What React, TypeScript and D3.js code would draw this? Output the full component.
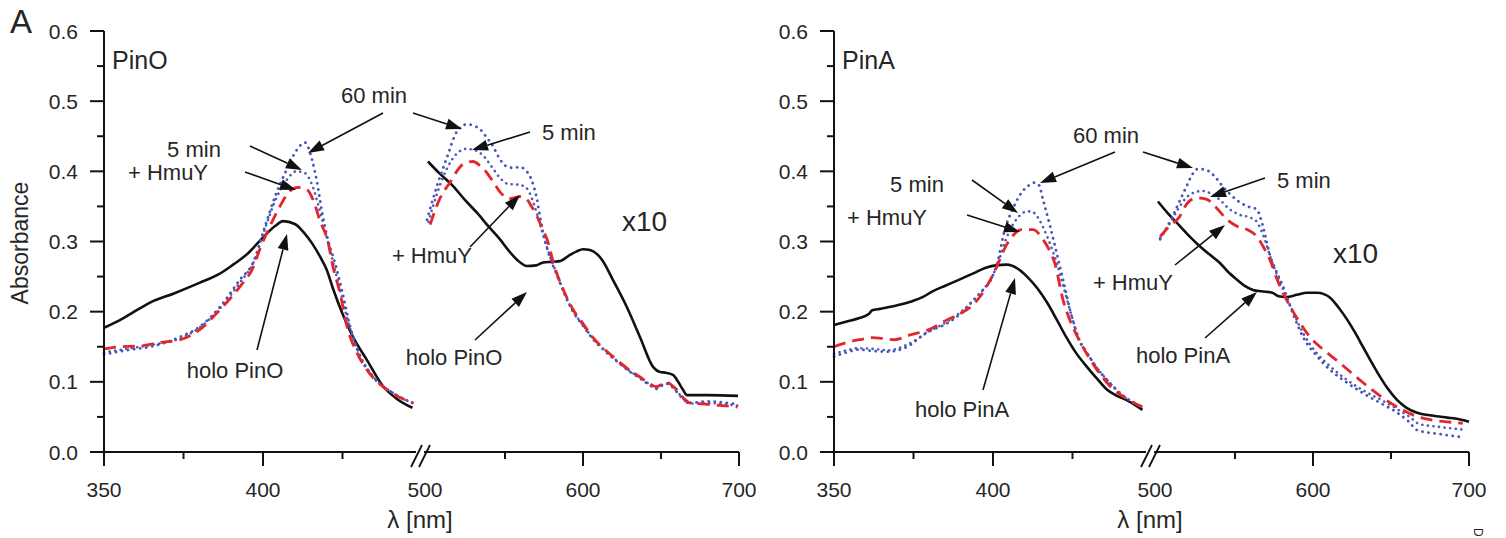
import React from "react";
import * as d3 from "d3";

// ---------- data (λ [nm], absorbance) ----------
const Y_TICKS = [0, 0.1, 0.2, 0.3, 0.4, 0.5, 0.6];
const Y_MINOR = [0.05, 0.15, 0.25, 0.35, 0.45, 0.55];
const X_TICKS_SORET = [350, 400];
const X_MINOR_SORET = [375, 425];
const X_TICKS_VIS = [500, 600, 700];
const X_MINOR_VIS = [550, 650];

// PinO, Soret region
const pinO_holo_soret = [[350,0.177],[355,0.188],[361,0.204],[364.5,0.213],[372,0.226],[380,0.241],[386,0.253],[390.6,0.267],[395,0.282],[398.4,0.298],[403.8,0.322],[406.3,0.329],[410,0.325],[413,0.312],[415.5,0.297],[418,0.278],[420,0.26],[422,0.233],[425,0.197],[428.3,0.164],[432.7,0.131],[437.7,0.094],[442,0.076],[447,0.063]];
const pinO_hmuy_soret = [[350,0.147],[355,0.15],[361,0.151],[367.6,0.156],[374,0.16],[380,0.174],[386.5,0.203],[392.8,0.236],[397,0.264],[399,0.289],[401.3,0.313],[405.3,0.35],[408.5,0.372],[411,0.377],[413.8,0.374],[415.7,0.36],[417.9,0.33],[420.4,0.3],[422,0.264],[424.2,0.227],[426.4,0.179],[429.6,0.141],[432.7,0.117],[437.7,0.093],[442,0.08],[447.2,0.07]];
const pinO_5min_soret = [[350,0.142],[357,0.147],[364,0.152],[374,0.162],[380,0.177],[386.5,0.205],[392.8,0.242],[397,0.27],[400.6,0.318],[404,0.36],[407.5,0.388],[410.5,0.4],[413,0.398],[415.5,0.38],[417.5,0.35],[419.5,0.315],[421.5,0.28],[424,0.235],[427,0.182],[430.5,0.138],[434.6,0.108],[441,0.084],[447,0.07]];
const pinO_60min_soret = [[350,0.139],[357,0.145],[364.5,0.15],[373.9,0.164],[380.2,0.179],[386.5,0.207],[392.8,0.246],[396.9,0.27],[400.6,0.321],[403.8,0.364],[407.5,0.403],[410.7,0.431],[413.2,0.441],[415.4,0.417],[417,0.384],[418.6,0.341],[420.4,0.303],[422.6,0.27],[425,0.227],[427.4,0.179],[430.5,0.136],[434.6,0.107],[440.9,0.084],[447,0.07]];

// PinO, visible region (x10)
const pinO_holo_vis = [[500.6,0.414],[508,0.397],[516.7,0.379],[524,0.36],[532,0.341],[540,0.32],[546.8,0.303],[552,0.288],[557.7,0.274],[564,0.265],[570,0.266],[574.4,0.27],[580,0.271],[585.3,0.272],[591,0.28],[596,0.286],[600,0.289],[604.5,0.288],[609,0.282],[612.8,0.272],[619,0.246],[628,0.207],[636.5,0.164],[645,0.121],[649.4,0.114],[653,0.113],[657.7,0.11],[661,0.1],[664,0.089],[666.7,0.081],[680,0.081],[699.4,0.08]];
const pinO_hmuy_vis = [[502,0.324],[508,0.36],[514.7,0.384],[523,0.41],[529.5,0.414],[534,0.408],[538,0.399],[543,0.383],[547,0.37],[553,0.361],[559.6,0.364],[564,0.36],[567,0.35],[570.5,0.336],[574,0.318],[577,0.303],[581,0.27],[583,0.256],[588,0.228],[593.6,0.203],[600,0.183],[606,0.164],[614,0.146],[621.8,0.131],[629,0.118],[636.5,0.107],[643,0.097],[647,0.093],[651,0.097],[654,0.099],[657,0.095],[660,0.089],[664,0.078],[668.6,0.07],[680,0.068],[699,0.064]];
const pinO_5min_vis = [[501,0.328],[507,0.372],[513,0.405],[519,0.425],[525,0.432],[531,0.43],[537,0.42],[542,0.405],[547,0.39],[552,0.382],[558,0.381],[563,0.378],[566,0.368],[569,0.35],[572,0.328],[575,0.305],[579,0.278],[583,0.255],[588,0.227],[593.6,0.201],[600,0.181],[606,0.163],[614,0.145],[621.8,0.13],[629,0.117],[636.5,0.106],[643,0.096],[647,0.091],[651,0.096],[654,0.098],[657,0.094],[660,0.087],[664,0.077],[668,0.069],[680,0.07],[699,0.066]];
const pinO_60min_vis = [[500,0.331],[506.4,0.379],[513,0.421],[519,0.456],[525.6,0.467],[530,0.465],[534,0.46],[538,0.449],[542.3,0.436],[546,0.42],[551,0.407],[555,0.405],[559.6,0.406],[563,0.402],[566,0.393],[568.5,0.378],[570.5,0.36],[572.5,0.335],[574.4,0.313],[577,0.29],[580,0.27],[583,0.254],[588,0.226],[593.6,0.2],[600,0.18],[606,0.162],[614,0.144],[621.8,0.129],[629,0.116],[636.5,0.105],[643,0.095],[647,0.09],[651,0.095],[654,0.097],[657,0.093],[660,0.086],[664,0.076],[668,0.07],[680,0.072],[699,0.068]];

// PinA, Soret region
const pinA_holo_soret = [[350,0.181],[354,0.186],[358,0.191],[361,0.197],[362,0.202],[364.5,0.204],[369,0.208],[374,0.214],[378,0.221],[381,0.229],[385,0.237],[389.6,0.246],[394,0.255],[398,0.263],[401,0.266],[404.4,0.267],[407.5,0.262],[410.7,0.25],[414,0.233],[417,0.213],[420,0.189],[423,0.164],[426,0.142],[429.6,0.121],[433,0.103],[435.8,0.089],[439,0.08],[442,0.074],[447,0.06]];
const pinA_hmuy_soret = [[350,0.15],[354,0.156],[358,0.16],[362,0.163],[365,0.162],[369,0.16],[374,0.167],[379.6,0.174],[385.8,0.189],[390,0.198],[393,0.207],[396,0.222],[398,0.236],[401,0.262],[404,0.293],[406,0.307],[409,0.317],[412.6,0.317],[415.7,0.303],[418,0.285],[419.5,0.268],[422,0.217],[424,0.19],[426.6,0.164],[430.7,0.131],[437,0.093],[442,0.076],[447,0.064]];
const pinA_5min_soret = [[350,0.14],[354,0.145],[358,0.148],[362,0.147],[367,0.145],[373,0.153],[380,0.172],[386,0.187],[390,0.2],[394,0.217],[397,0.232],[399.5,0.248],[402,0.275],[404,0.302],[406,0.322],[408,0.335],[410,0.342],[412,0.343],[414,0.335],[416,0.318],[418,0.296],[420,0.27],[422,0.238],[425,0.19],[427,0.162],[429.6,0.141],[433,0.118],[436,0.102],[441,0.08],[447,0.064]];
const pinA_60min_soret = [[350,0.136],[354,0.142],[358,0.146],[362,0.144],[366.7,0.143],[373,0.15],[379,0.17],[385.8,0.184],[390,0.198],[394,0.217],[397,0.232],[399.4,0.246],[401.6,0.274],[403.5,0.313],[406.6,0.35],[409,0.37],[411,0.379],[413,0.384],[414.5,0.38],[415.7,0.36],[418,0.321],[420,0.284],[422,0.246],[425,0.189],[427,0.16],[429.6,0.141],[433,0.118],[435.8,0.103],[441,0.08],[447,0.064]];

// PinA, visible region (x10)
const pinA_holo_vis = [[500.6,0.357],[507,0.34],[514.7,0.322],[521,0.307],[527.6,0.293],[534,0.281],[540,0.27],[545,0.258],[551,0.246],[556,0.237],[561.5,0.231],[567,0.229],[574,0.227],[578,0.222],[583,0.221],[589.7,0.224],[596,0.227],[602.6,0.227],[607,0.225],[611,0.22],[616,0.207],[621.8,0.189],[627,0.17],[632,0.15],[637,0.13],[643,0.107],[648,0.09],[654,0.074],[660,0.063],[666.7,0.056],[676,0.052],[686,0.049],[693,0.047],[700,0.043]];
const pinA_hmuy_vis = [[502,0.307],[508,0.322],[514.7,0.336],[518,0.35],[522.4,0.36],[527,0.362],[532,0.36],[538,0.348],[545,0.331],[551,0.322],[557.7,0.317],[564,0.307],[568,0.293],[572.4,0.274],[577,0.246],[583,0.217],[590,0.19],[598,0.164],[606,0.147],[615,0.131],[624,0.114],[632,0.099],[643,0.08],[654,0.064],[665,0.052],[675,0.046],[686,0.043],[696,0.041]];
const pinA_5min_vis = [[502,0.305],[508,0.325],[514,0.348],[519,0.363],[524,0.37],[529,0.372],[534,0.369],[540,0.36],[546,0.347],[553,0.338],[560,0.334],[564,0.328],[567,0.315],[570,0.297],[573,0.276],[577,0.252],[582,0.226],[588,0.196],[594,0.168],[602,0.142],[611,0.122],[621,0.104],[632,0.088],[643,0.075],[654,0.061],[662,0.05],[668,0.04],[680,0.036],[696,0.032]];
const pinA_60min_vis = [[502,0.303],[510,0.336],[515,0.36],[519,0.379],[522,0.393],[525.6,0.403],[530,0.403],[534,0.399],[538,0.39],[542,0.379],[547,0.367],[553,0.356],[558,0.35],[564,0.346],[566,0.336],[568,0.321],[570,0.303],[572,0.284],[576,0.26],[580.8,0.236],[587,0.198],[593.6,0.164],[602,0.138],[611,0.117],[621,0.1],[632,0.084],[643,0.07],[654,0.056],[661,0.044],[667,0.031],[680,0.026],[696,0.021]];

// ---------- styles ----------
const FONT = "'Liberation Sans', Arial, Helvetica, sans-serif";
const TXT = "#262626";
const STYLES: Record<string, any> = {
  holo: { stroke: "#111", width: 2.6, dash: undefined, cap: "butt" },
  hmuy: { stroke: "#e3262c", width: 2.8, dash: "12 7", cap: "butt" },
  min5: { stroke: "#4d5ab6", width: 2.6, dash: "0.1 5.5", cap: "round" },
  min60: { stroke: "#4656b8", width: 2.8, dash: "0.1 6", cap: "round" },
};

const PANELS = [
  {
    ox: 0,
    title: "PinO",
    holo: "holo PinO",
    soret: { holo: pinO_holo_soret, hmuy: pinO_hmuy_soret, min5: pinO_5min_soret, min60: pinO_60min_soret },
    vis: { holo: pinO_holo_vis, hmuy: pinO_hmuy_vis, min5: pinO_5min_vis, min60: pinO_60min_vis },
    texts: [
      { t: "60 min", x: 374, y: 103, a: "middle" },
      { t: "5 min", x: 194, y: 157, a: "middle" },
      { t: "+ HmuY", x: 168, y: 180, a: "middle" },
      { t: "holo PinO", x: 235, y: 378, a: "middle" },
      { t: "5 min", x: 542, y: 140, a: "start" },
      { t: "+ HmuY", x: 472, y: 263, a: "end" },
      { t: "x10", x: 622, y: 231, a: "start", s: 28 },
      { t: "holo PinO", x: 454, y: 365, a: "middle" },
    ],
    arrows: [
      [383, 113, 308, 153],
      [413, 113, 462, 129],
      [250, 146, 302, 170],
      [245, 172, 296, 190],
      [257, 350, 287, 234],
      [530, 132, 472, 150],
      [470, 247, 520, 195],
      [475, 340, 527, 292],
    ],
  },
  {
    ox: 730,
    title: "PinA",
    holo: "holo PinA",
    soret: { holo: pinA_holo_soret, hmuy: pinA_hmuy_soret, min5: pinA_5min_soret, min60: pinA_60min_soret },
    vis: { holo: pinA_holo_vis, hmuy: pinA_hmuy_vis, min5: pinA_5min_vis, min60: pinA_60min_vis },
    texts: [
      { t: "60 min", x: 376, y: 143, a: "middle" },
      { t: "5 min", x: 187, y: 192, a: "middle" },
      { t: "+ HmuY", x: 157, y: 225, a: "middle" },
      { t: "holo PinA", x: 232, y: 417, a: "middle" },
      { t: "5 min", x: 547, y: 188, a: "start" },
      { t: "+ HmuY", x: 443, y: 290, a: "end" },
      { t: "x10", x: 603, y: 263, a: "start", s: 28 },
      { t: "holo PinA", x: 453, y: 363, a: "middle" },
    ],
    arrows: [
      [385, 152, 310, 183],
      [413, 152, 463, 168],
      [242, 180, 288, 213],
      [237, 215, 290, 232],
      [253, 390, 285, 278],
      [535, 178, 480, 197],
      [445, 265, 495, 225],
      [475, 338, 527, 292],
    ],
  },
];

const ORDER = ["holo", "min60", "min5", "hmuy"];

function Arrow({ x1, y1, x2, y2 }: any) {
  const dx = x2 - x1, dy = y2 - y1;
  const L = Math.hypot(dx, dy);
  const ux = dx / L, uy = dy / L;
  const hl = 16, hw = 5.5;
  const bx = x2 - ux * hl, by = y2 - uy * hl;
  const pts = [
    [x2, y2],
    [bx - uy * hw, by + ux * hw],
    [bx + uy * hw, by - ux * hw],
  ];
  return (
    <g>
      <line x1={x1} y1={y1} x2={bx} y2={by} stroke="#111" strokeWidth={1.6} />
      <polygon points={pts.map((p) => p.join(",")).join(" ")} fill="#111" />
    </g>
  );
}

function Panel({ p }: any) {
  const y = d3.scaleLinear().domain([0, 0.6]).range([452, 31]);
  const xs = d3.scaleLinear().domain([350, 450]).range([104, 422]);
  const xv = d3.scaleLinear().domain([500, 700]).range([427, 739]);
  const lineS = d3.line<number[]>().x((d) => xs(d[0])).y((d) => y(d[1])).curve(d3.curveMonotoneX);
  const lineV = d3.line<number[]>().x((d) => xv(d[0])).y((d) => y(d[1])).curve(d3.curveMonotoneX);
  const axX = xs(350);
  const y0 = y(0);
  return (
    <g transform={`translate(${p.ox},0)`}>
      {/* curves */}
      {ORDER.map((k) => {
        const st = STYLES[k];
        return (
          <g key={k}>
            <path d={lineS(p.soret[k]) || ""} fill="none" stroke={st.stroke} strokeWidth={st.width} strokeDasharray={st.dash} strokeLinecap={st.cap} strokeLinejoin="round" />
            <path d={lineV(p.vis[k]) || ""} fill="none" stroke={st.stroke} strokeWidth={st.width} strokeDasharray={st.dash} strokeLinecap={st.cap} strokeLinejoin="round" />
          </g>
        );
      })}
      {/* y axis */}
      <line x1={axX} x2={axX} y1={y(0.6)} y2={y0} stroke="#111" strokeWidth={2} />
      {Y_TICKS.map((t) => (
        <g key={"y" + t}>
          <line x1={axX - 14} x2={axX} y1={y(t)} y2={y(t)} stroke="#111" strokeWidth={2} />
          <text x={axX - 26} y={y(t)} dy="0.36em" textAnchor="end" fontSize={21} fontFamily={FONT} fill={TXT}>
            {t.toFixed(1)}
          </text>
        </g>
      ))}
      {Y_MINOR.map((t) => (
        <line key={"ym" + t} x1={axX - 7} x2={axX} y1={y(t)} y2={y(t)} stroke="#111" strokeWidth={2} />
      ))}
      {/* x axis */}
      <line x1={axX} x2={xv(700)} y1={y0} y2={y0} stroke="#111" strokeWidth={2} />
      {X_TICKS_SORET.map((t) => (
        <g key={"xs" + t}>
          <line x1={xs(t)} x2={xs(t)} y1={y0} y2={y0 + 14} stroke="#111" strokeWidth={2} />
          <text x={xs(t)} y={497} textAnchor="middle" fontSize={21} fontFamily={FONT} fill={TXT}>{t}</text>
        </g>
      ))}
      {X_MINOR_SORET.map((t) => (
        <line key={"xsm" + t} x1={xs(t)} x2={xs(t)} y1={y0} y2={y0 + 7} stroke="#111" strokeWidth={2} />
      ))}
      {X_TICKS_VIS.map((t) => (
        <g key={"xv" + t}>
          <line x1={xv(t)} x2={xv(t)} y1={y0} y2={y0 + (t === 500 ? 0 : 14)} stroke="#111" strokeWidth={2} />
          <text x={xv(t) - (t === 500 ? 2 : 0)} y={497} textAnchor="middle" fontSize={21} fontFamily={FONT} fill={TXT}>{t}</text>
        </g>
      ))}
      {X_MINOR_VIS.map((t) => (
        <line key={"xvm" + t} x1={xv(t)} x2={xv(t)} y1={y0} y2={y0 + 7} stroke="#111" strokeWidth={2} />
      ))}
      {/* axis break */}
      <rect x={416} y={y0 - 3} width={8} height={6} fill="#fff" />
      <line x1={411} y1={y0 + 15} x2={422} y2={y0 - 7} stroke="#111" strokeWidth={1.8} />
      <line x1={419} y1={y0 + 15} x2={430} y2={y0 - 7} stroke="#111" strokeWidth={1.8} />
      {/* titles */}
      <text x={112} y={69} fontSize={25} fontFamily={FONT} fill={TXT}>{p.title}</text>
      <text x={420} y={528} textAnchor="middle" fontSize={24} fontFamily={FONT} fill={TXT}>λ [nm]</text>
      {/* annotations */}
      {p.texts.map((a: any, i: number) => (
        <text key={"t" + i} x={a.x} y={a.y} textAnchor={a.a} fontSize={a.s || 22} fontFamily={FONT} fill={TXT}>{a.t}</text>
      ))}
      {p.arrows.map((a: number[], i: number) => (
        <Arrow key={"a" + i} x1={a[0]} y1={a[1]} x2={a[2]} y2={a[3]} />
      ))}
    </g>
  );
}

export default function App() {
  return (
    <svg width={1506} height={538} style={{ position: "absolute", left: 0, top: 0, background: "#fff" }}>
      <rect width={1506} height={538} fill="#fff" />
      <text x={10} y={33} fontSize={33} fontFamily={FONT} fill={TXT}>A</text>
      <text transform="translate(28,243) rotate(-90)" textAnchor="middle" fontSize={23} fontFamily={FONT} fill={TXT}>Absorbance</text>
      {PANELS.map((p) => (
        <Panel key={p.title} p={p} />
      ))}
      <text transform="translate(1474,528) rotate(90)" fontSize={12} fontFamily={FONT} fill={TXT}>D</text>
    </svg>
  );
}
